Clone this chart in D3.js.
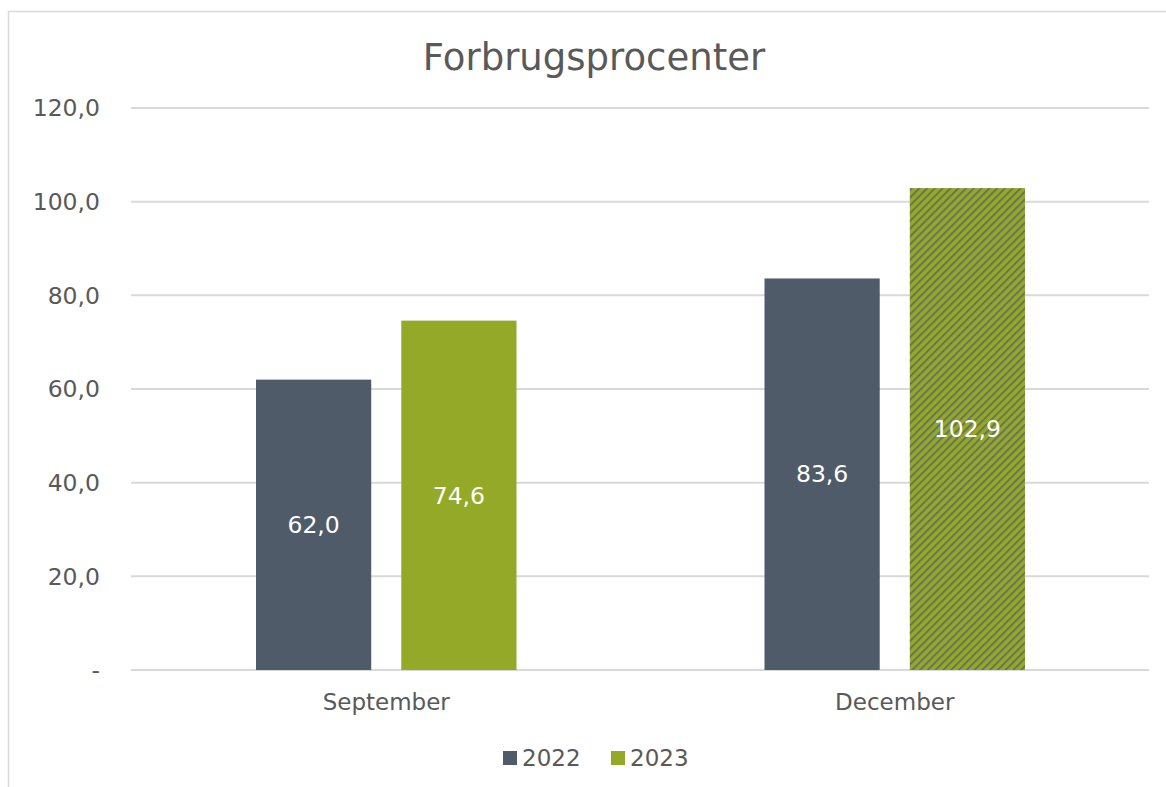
<!DOCTYPE html>
<html>
<head>
<meta charset="utf-8">
<script src="https://cdn.jsdelivr.net/npm/d3@7"></script>
<style>
  body { margin: 0; background: #fff; }
  text { font-family: "DejaVu Sans", Verdana, sans-serif; }
</style>
</head>
<body>
<div id="chart"></div>
<script>
const categories = ["September", "December"];
const seriesNames = ["2022", "2023"];
const values2022 = [62.0, 83.6];
const values2023 = [74.6, 102.9];
const yTicks = [0, 20, 40, 60, 80, 100, 120];

const W = 1166, H = 787;
const margin = {top: 108, right: 17, bottom: 117, left: 132};
const width = W - margin.left - margin.right;
const height = H - margin.top - margin.bottom;

const svg = d3.select("#chart").append("svg")
    .attr("width", W)
    .attr("height", H);

// chart area border
svg.append("rect")
    .attr("x", 8.5).attr("y", 11.5)
    .attr("width", 1300).attr("height", 1000)
    .attr("fill", "none")
    .attr("stroke", "#d9d9d9")
    .attr("stroke-width", 1.5);

const defs = svg.append("defs");
const pat = defs.append("pattern")
    .attr("id", "hatch")
    .attr("patternUnits", "userSpaceOnUse")
    .attr("width", 5.5).attr("height", 5.5)
    .attr("patternTransform", "rotate(45)");
pat.append("rect").attr("width", 5.5).attr("height", 5.5).attr("fill", "#94a928");
pat.append("rect").attr("width", 2).attr("height", 5.5).attr("fill", "#6a7457");

const g = svg.append("g")
    .attr("transform", `translate(${margin.left},${margin.top})`);

const x0 = d3.scaleBand()
    .domain(categories)
    .range([0, width]);

const x1 = d3.scaleBand()
    .domain(seriesNames)
    .range([124, x0.bandwidth() - 124])
    .paddingInner(0.207);

const y = d3.scaleLinear()
    .domain([0, 120])
    .range([height, 0]);

const fmt = v => v === 0 ? "-" : d3.format(".1f")(v).replace(".", ",");

// gridlines
g.selectAll("line.grid")
    .data(yTicks)
    .enter()
    .append("line")
    .attr("x1", -1).attr("x2", width)
    .attr("y1", d => y(d)).attr("y2", d => y(d))
    .attr("stroke", "#d9d9d9")
    .attr("stroke-width", 2);

// y labels
g.selectAll("text.ytick")
    .data(yTicks)
    .enter()
    .append("text")
    .attr("x", -32)
    .attr("y", d => y(d))
    .attr("dy", "0.35em")
    .attr("text-anchor", "end")
    .attr("font-size", 23.5)
    .attr("fill", "#595959")
    .text(fmt);

// bars
const rows = categories.map((c, i) => ({
    cat: c,
    vals: [
        {name: "2022", value: values2022[i]},
        {name: "2023", value: values2023[i]}
    ]
}));

const fills = {
    "September-2022": "#4f5b69", "September-2023": "#94a928",
    "December-2022": "#4f5b69", "December-2023": "url(#hatch)"
};

const grp = g.selectAll("g.cat")
    .data(rows)
    .enter()
    .append("g")
    .attr("transform", d => `translate(${x0(d.cat)},0)`);

grp.selectAll("rect")
    .data(d => d.vals.map(v => ({...v, cat: d.cat})))
    .enter()
    .append("rect")
    .attr("x", d => x1(d.name))
    .attr("y", d => y(d.value))
    .attr("width", x1.bandwidth())
    .attr("height", d => height - y(d.value))
    .attr("fill", d => fills[d.cat + "-" + d.name]);

grp.selectAll("text")
    .data(d => d.vals)
    .enter()
    .append("text")
    .attr("x", d => x1(d.name) + x1.bandwidth() / 2)
    .attr("y", d => (y(d.value) + height) / 2)
    .attr("dy", "0.35em")
    .attr("text-anchor", "middle")
    .attr("font-size", 23.5)
    .attr("fill", "#fff")
    .text(d => fmt(d.value));

// category labels
g.selectAll("text.cat")
    .data(categories)
    .enter()
    .append("text")
    .attr("x", d => x0(d) + x0.bandwidth() / 2)
    .attr("y", height + 32)
    .attr("dy", "0.35em")
    .attr("text-anchor", "middle")
    .attr("font-size", 23)
    .attr("fill", "#595959")
    .text(d => d);

// title
svg.append("text")
    .attr("x", 594)
    .attr("y", 57)
    .attr("dy", "0.35em")
    .attr("text-anchor", "middle")
    .attr("font-size", 37)
    .attr("fill", "#595959")
    .text("Forbrugsprocenter");

// legend
const legendColors = ["#4f5b69", "#94a928"];
const legend = svg.selectAll("g.legend")
    .data(seriesNames)
    .enter()
    .append("g")
    .attr("transform", (d, i) => `translate(${503 + i * 108},758)`);

legend.append("rect")
    .attr("x", 0).attr("y", -7)
    .attr("width", 14).attr("height", 14)
    .attr("fill", (d, i) => legendColors[i]);

legend.append("text")
    .attr("x", 19)
    .attr("y", 0)
    .attr("dy", "0.35em")
    .attr("font-size", 23)
    .attr("fill", "#595959")
    .text(d => d);
</script>
</body>
</html>
